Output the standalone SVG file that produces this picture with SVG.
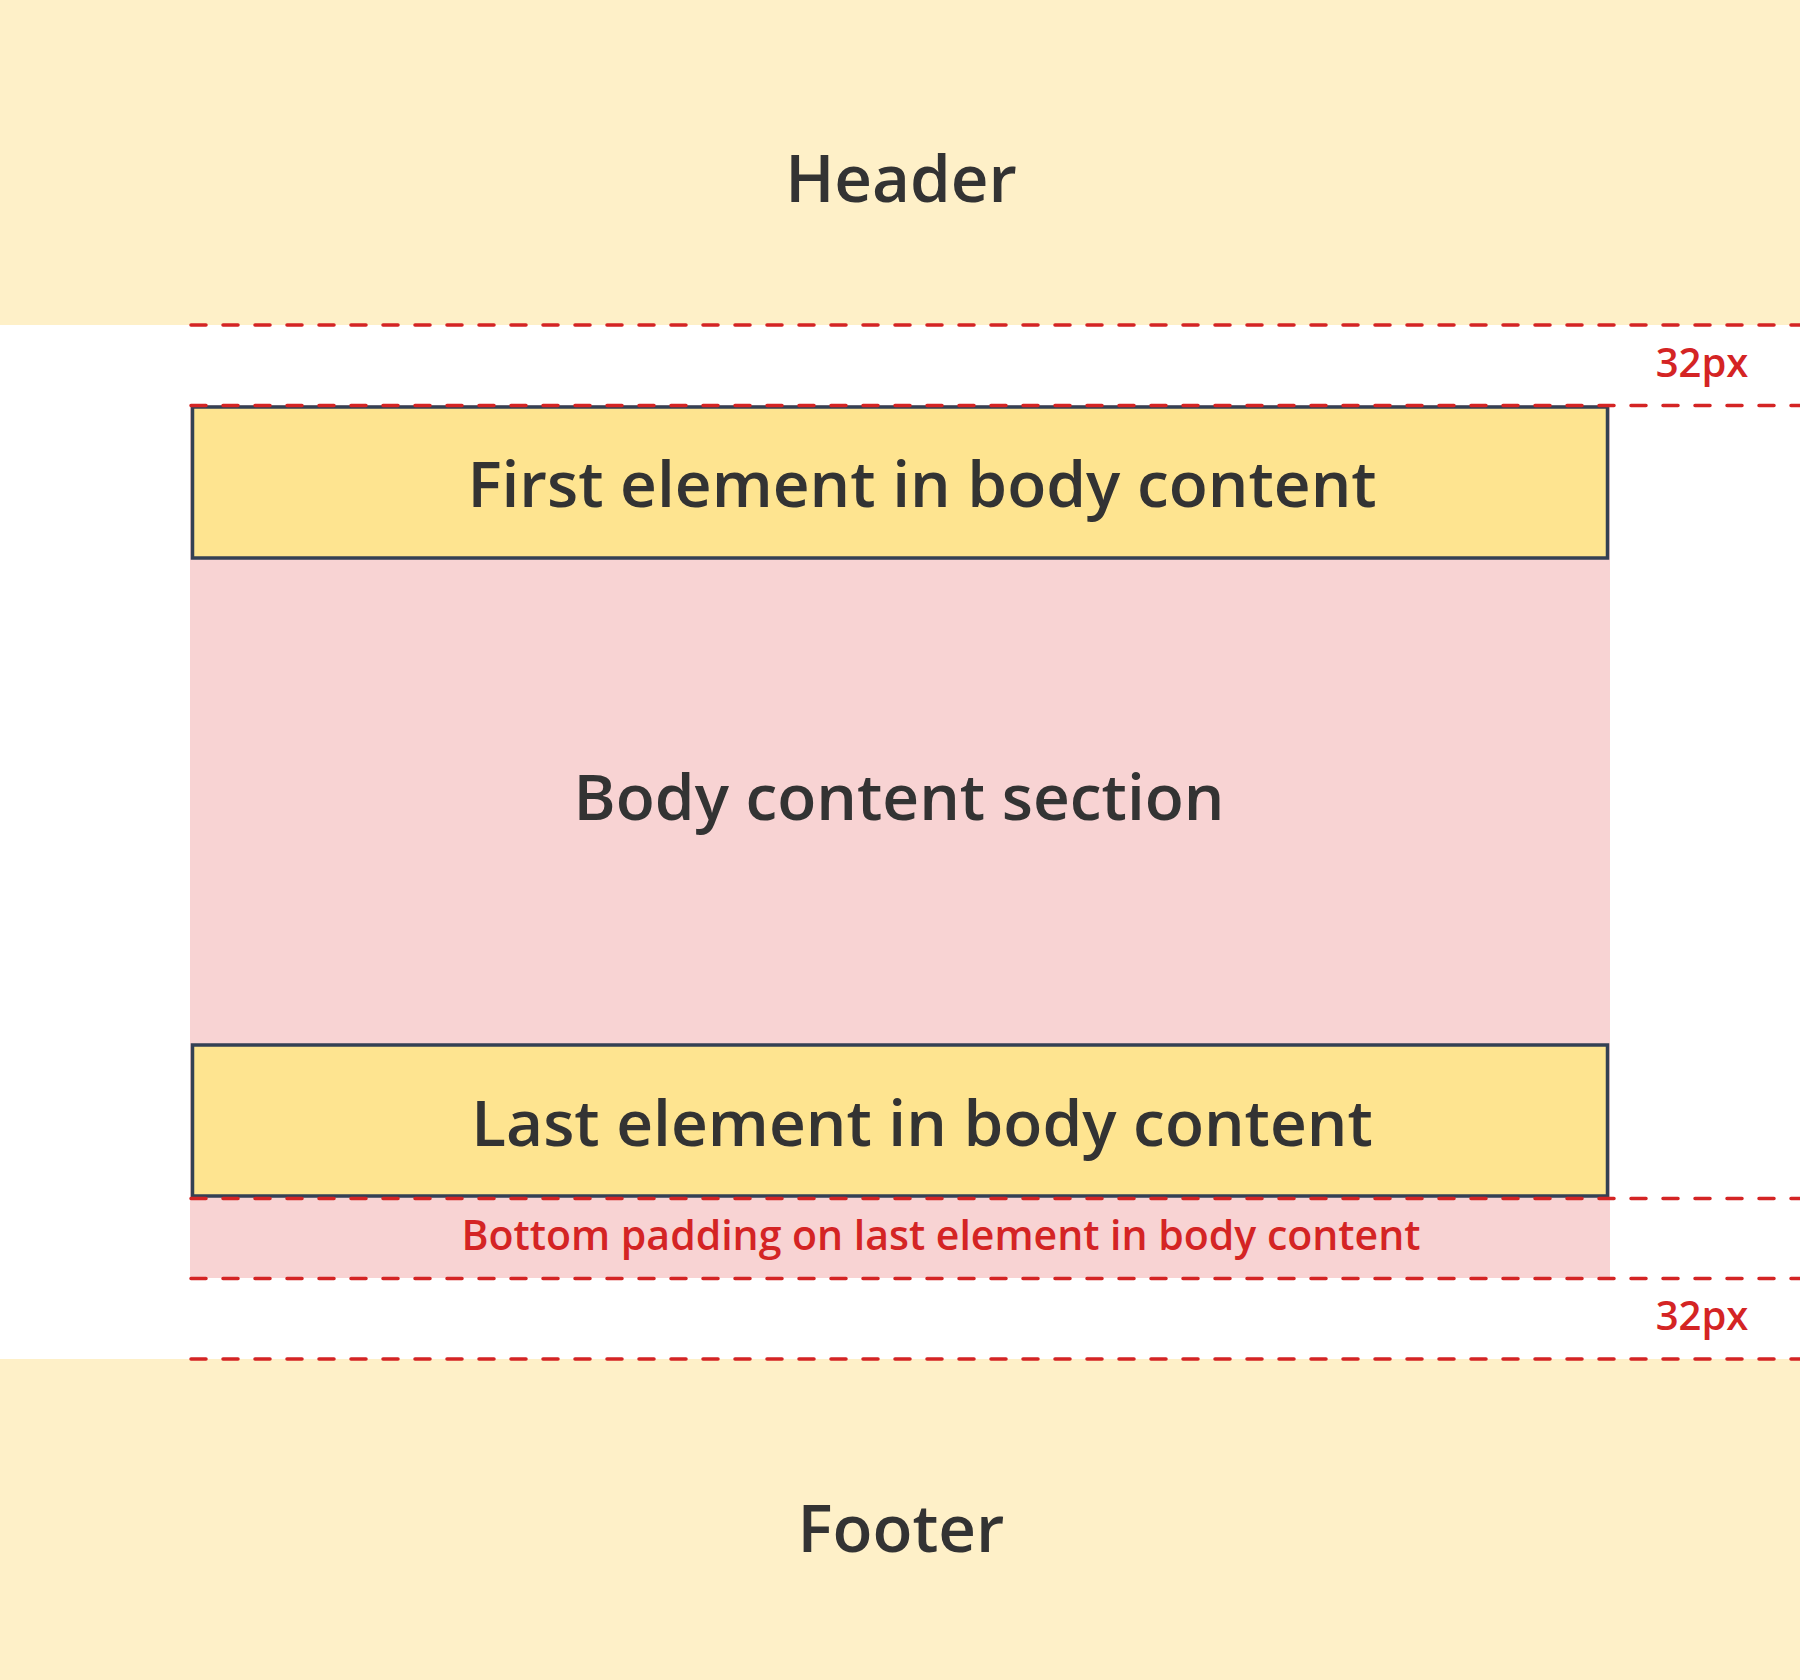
<svg xmlns="http://www.w3.org/2000/svg" width="1800" height="1680" viewBox="0 0 1800 1680">
  <style>
    .band { fill: #FEF0C8; }
    .pink { fill: #F8D3D3; }
    .box { fill: #FEE490; stroke: #344054; stroke-width: 3.5; }
    .lbl { font-family: "Open Sans", "Noto Sans", sans-serif; font-weight: 600; fill: #333333; text-anchor: middle; }
    .big { font-size: 64px; }
    .huge { font-size: 65.5px; }
    .red { font-family: "Open Sans", "Noto Sans", sans-serif; font-weight: 600; fill: #D42424; text-anchor: middle; }
    .dash { stroke: #D42424; stroke-width: 3.5; stroke-dasharray: 15 17; stroke-linecap: round; fill: none; }
  </style>
  <rect width="1800" height="1680" fill="#FFFFFF"/>
  <g id="header">
    <rect class="band" x="0" y="0" width="1800" height="325"/>
    <text class="lbl huge" x="901" y="202">Header</text>
  </g>
  <g id="body">
    <rect class="pink" x="190" y="405" width="1420" height="873"/>
    <text class="lbl big" x="899" y="820">Body content section</text>
  </g>
  <g id="first-element">
    <rect class="box" x="192.5" y="407" width="1415" height="151"/>
    <text class="lbl big" x="922" y="507">First element in body content</text>
  </g>
  <g id="last-element">
    <rect class="box" x="192.5" y="1045" width="1415" height="151"/>
    <text class="lbl big" x="922" y="1146">Last element in body content</text>
  </g>
  <g id="padding-label">
    <text class="red" font-size="41" font-weight="500" x="941" y="1250">Bottom padding on last element in body content</text>
  </g>
  <g id="footer">
    <rect class="band" x="0" y="1359" width="1800" height="321"/>
    <text class="lbl huge" x="901" y="1552">Footer</text>
  </g>
  <g id="connectors">
    <line class="dash" x1="191" y1="325" x2="1800" y2="325"/>
    <line class="dash" x1="191" y1="405.5" x2="1800" y2="405.5"/>
    <line class="dash" x1="191" y1="1198.5" x2="1800" y2="1198.5"/>
    <line class="dash" x1="191" y1="1278.5" x2="1800" y2="1278.5"/>
    <line class="dash" x1="191" y1="1359" x2="1800" y2="1359"/>
  </g>
  <g id="measure-labels">
    <text class="red" font-size="40" font-weight="500" x="1702" y="377">32px</text>
    <text class="red" font-size="40" font-weight="500" x="1702" y="1330">32px</text>
  </g>
</svg>
